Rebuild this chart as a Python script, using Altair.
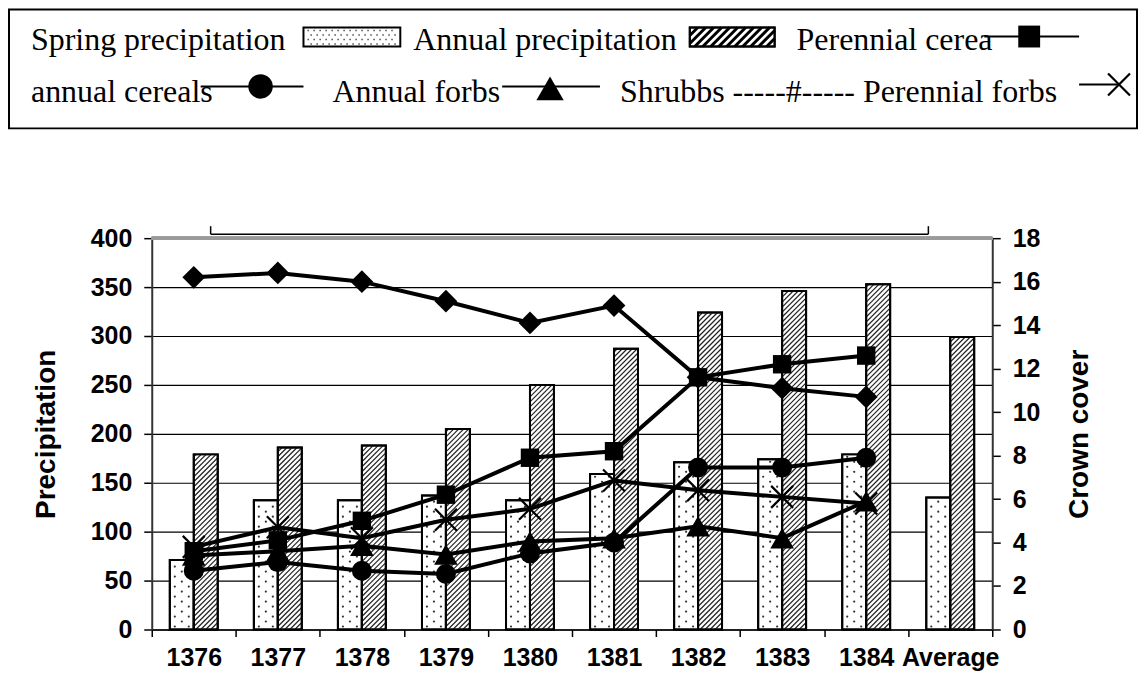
import json
import altair as alt
import pandas as pd

# ---------------- data ----------------
categories = ["1376", "1377", "1378", "1379", "1380", "1381", "1382", "1383", "1384", "Average"]
spring_precip = [71, 132, 132, 137, 132, 159, 171, 174, 179, 135]
annual_precip = [179, 186, 188, 205, 250, 287, 324, 346, 353, 299]

shrubbs = [16.2, 16.4, 16.0, 15.1, 14.1, 14.9, 11.6, 11.1, 10.7]
perennial_cereals = [3.6, 4.1, 5.0, 6.2, 7.9, 8.2, 11.6, 12.2, 12.6]
annual_cereals = [2.7, 3.1, 2.7, 2.55, 3.5, 4.0, 7.45, 7.45, 7.9]
annual_forbs = [3.4, 3.6, 3.85, 3.45, 4.05, 4.2, 4.75, 4.2, 5.9]
perennial_forbs = [3.8, 4.7, 4.2, 5.05, 5.55, 6.85, 6.4, 6.1, 5.8]

# ---------------- geometry / style ----------------
PLOT_W, PLOT_H = 842, 392
PX_X = PLOT_W / 10.0          # px per category
PX_Y = PLOT_H / 400.0         # px per precipitation unit
BAR_PX = 24
BW = BAR_PX / PX_X
SANS = "Liberation Sans"
SERIF = "Liberation Serif"
X_PATH = "M-1,-1L1,1M1,-1L-1,1"

precip_df = pd.DataFrame({
    "idx": list(range(len(categories))),
    "cat": categories,
    "spring": spring_precip,
    "annual": annual_precip,
})
bars_long = precip_df.melt(id_vars=["idx", "cat"], value_vars=["spring", "annual"],
                           var_name="series", value_name="value")

series_def = [
    ("Shrubbs", shrubbs, "diamond", 520),
    ("Perennial cereals", perennial_cereals, "square", 340),
    ("annual cereals", annual_cereals, "circle", 400),
    ("Annual forbs", annual_forbs, "triangle-up", 560),
    ("Perennial forbs", perennial_forbs, X_PATH, 484),
]
rows = []
for name, vals, _, _ in series_def:
    for i, v in enumerate(vals):
        rows.append({"idx": i, "series": name, "value": v})
crown_df = pd.DataFrame(rows)

xscale = alt.Scale(domain=[-0.5, 9.5], nice=False, zero=False)
yscale_p = alt.Scale(domain=[0, 400], nice=False)
yscale_c = alt.Scale(domain=[0, 18], nice=False)

tick_vals = sorted([i - 0.5 for i in range(11)] + list(range(10)))
xaxis = alt.Axis(
    values=tick_vals,
    labelExpr=f"datum.value % 1 === 0 ? {json.dumps(categories)}[datum.value] : ''",
    tickOpacity={"condition": {"test": "datum.value % 1 === 0", "value": 0}, "value": 1},
    grid=False, title=None, labelOverlap=False, labelFlush=False,
    tickSize=7, labelPadding=9, domainColor="black", domainWidth=1.5,
    tickColor="black", tickWidth=1.5,
)
yaxis_left = alt.Axis(
    values=list(range(0, 401, 50)), title="Precipitation", grid=True,
    gridColor="black", gridWidth=1.2,
    tickSize=8, labelPadding=12, titlePadding=30,
    domainColor="#333333", domainWidth=2, tickColor="black", tickWidth=1.5,
)
yaxis_right = alt.Axis(
    orient="right", values=list(range(0, 19, 2)), title="Crown cover", grid=False,
    titleAngle=270, titleBaseline="top", titlePadding=26,
    tickSize=8, labelPadding=12,
    domainColor="#333333", domainWidth=2, tickColor="black", tickWidth=1.5,
)

# ---------------- bars ----------------
bar_base = alt.Chart(bars_long).transform_calculate(
    x0=f"datum.idx + (datum.series === 'spring' ? {-BW} : 0)",
    x1=f"datum.idx + (datum.series === 'spring' ? 0 : {BW})",
)
bars_fill = bar_base.mark_rect(fill="white", stroke="black", strokeWidth=2).encode(
    x=alt.X("x0:Q", scale=xscale, axis=xaxis),
    x2="x1:Q",
    y=alt.Y("value:Q", scale=yscale_p, axis=yaxis_left),
    y2=alt.datum(0),
)
bars_outline = bar_base.mark_rect(fillOpacity=0, stroke="black", strokeWidth=2).encode(
    x=alt.X("x0:Q", scale=xscale),
    x2="x1:Q",
    y=alt.Y("value:Q", scale=yscale_p),
    y2=alt.datum(0),
)

top_line = alt.Chart(precip_df).mark_rule(color="#9a9a9a", strokeWidth=3).encode(
    y=alt.datum(400), x=alt.value(0), x2=alt.value(PLOT_W)
)


def dot_layer(col_px, start_px):
    return alt.Chart(precip_df).transform_calculate(
        ys=f"sequence({start_px}, datum.spring * {PX_Y} - 2, 10)"
    ).transform_flatten(["ys"]).transform_calculate(
        dx=f"datum.idx - {BW} + {col_px / PX_X}",
        dy=f"datum.ys / {PX_Y}",
    ).mark_circle(size=5, color="#333333", opacity=1).encode(
        x=alt.X("dx:Q", scale=xscale),
        y=alt.Y("dy:Q", scale=yscale_p),
    )


dots = [dot_layer(5, 3), dot_layer(19, 3), dot_layer(12, 8)]

hatch = alt.Chart(precip_df).transform_calculate(
    H=f"datum.annual * {PX_Y}"
).transform_calculate(
    ks=f"sequence({-BAR_PX + 2}, datum.H, 5)"
).transform_flatten(["ks"]).transform_calculate(
    u0="max(0, -datum.ks)",
    u1=f"min({BAR_PX}, datum.H - datum.ks)",
).transform_filter("datum.u1 > datum.u0").transform_calculate(
    hx=f"datum.idx + datum.u0 / {PX_X}",
    hx2=f"datum.idx + datum.u1 / {PX_X}",
    hy=f"(datum.u0 + datum.ks) / {PX_Y}",
    hy2=f"(datum.u1 + datum.ks) / {PX_Y}",
).mark_rule(color="#222222", strokeWidth=1.2).encode(
    x=alt.X("hx:Q", scale=xscale),
    x2="hx2:Q",
    y=alt.Y("hy:Q", scale=yscale_p),
    y2="hy2:Q",
)

precip_group = alt.layer(bars_fill, top_line, *dots, hatch, bars_outline)

# ---------------- crown-cover lines ----------------
lines = alt.Chart(crown_df).mark_line(color="black", strokeWidth=4).encode(
    x=alt.X("idx:Q", scale=xscale),
    y=alt.Y("value:Q", scale=yscale_c, axis=yaxis_right),
    detail="series:N",
)
pts = []
for name, _, shp, sz in series_def:
    is_x = shp == X_PATH
    pts.append(
        alt.Chart(crown_df).transform_filter(alt.datum.series == name).mark_point(
            shape=shp, size=sz, filled=not is_x, color="black", opacity=1,
            strokeWidth=2.2 if is_x else 1,
        ).encode(
            x=alt.X("idx:Q", scale=xscale),
            y=alt.Y("value:Q", scale=yscale_c),
        )
    )
crown_group = alt.layer(lines, *pts)

# ---------------- legend (drawn above the plot) ----------------
one = pd.DataFrame({"k": [0]})


def ltext(s, x, y, font=SERIF, size=32, color="black", **kw):
    return alt.Chart(one).mark_text(font=font, fontSize=size, align="left", baseline="alphabetic",
                                    color=color, **kw).encode(x=alt.value(x), y=alt.value(y), text=alt.value(s))


def lrule(x1, x2, y, w=2):
    return alt.Chart(one).mark_rule(color="black", strokeWidth=w).encode(
        x=alt.value(x1), x2=alt.value(x2), y=alt.value(y))


def lvrule(x, y1, y2, w=1.5):
    return alt.Chart(one).mark_rule(color="black", strokeWidth=w).encode(
        x=alt.value(x), y=alt.value(y1), y2=alt.value(y2))


def lpoint(shape, x, y, size, filled=True, sw=1, color="black"):
    return alt.Chart(one).mark_point(shape=shape, size=size, filled=filled, color=color,
                                     opacity=1, strokeWidth=sw).encode(x=alt.value(x), y=alt.value(y))


def lrect(x1, x2, y1, y2, sw=2, fill="white"):
    return alt.Chart(one).mark_rect(fill=fill, stroke="black", strokeWidth=sw).encode(
        x=alt.value(x1), x2=alt.value(x2), y=alt.value(y1), y2=alt.value(y2))


# swatch patterns as custom symbol paths (size=4 -> one path unit = one pixel)
def dots_path(w, h):
    parts = []
    ys = [-6.5, -2.0, 2.5, 7.0]
    for r, yy in enumerate(ys):
        start = -w / 2 + 4 + (3 if r % 2 else 0)
        xx = start
        while xx < w / 2 - 3:
            parts.append(f"M{xx:.1f},{yy - 0.7:.1f}h1.4v1.4h-1.4z")
            xx += 6
    return "".join(parts)


def hatch_path(w, h, step):
    parts = []
    k = -w
    while k < h:
        u0 = max(0.0, -k)
        u1 = min(float(w), h - k)
        if u1 > u0:
            x0, y0 = u0 - w / 2, h / 2 - (u0 + k)
            x1, y1 = u1 - w / 2, h / 2 - (u1 + k)
            parts.append(f"M{x0:.1f},{y0:.1f}L{x1:.1f},{y1:.1f}")
        k += step
    return "".join(parts)


ROW1, ROW2 = -189, -136
legend_layers = [
    lrect(-143, 987, -229, -110, sw=2),
    ltext("Spring precipitation", -121, ROW1),
    lrect(152, 249, -211, -192, sw=2),
    lpoint(dots_path(97, 19), 200.5, -201.5, 4, filled=True, sw=0, color="#444444"),
    ltext("Annual precipitation", 262, ROW1),
    lrect(539, 624, -211, -192, sw=2),
    lpoint(hatch_path(85, 19, 8), 581.5, -201.5, 4, filled=False, sw=3),
    lrect(539, 624, -211, -192, sw=2, fill="transparent"),
    ltext("Perennial cerea", 646, ROW1),
    lrule(834, 929, -202),
    lpoint("square", 879, -202, 480),
    ltext("annual cereals", -121, ROW2),
    lrule(49, 152, -152),
    lpoint("circle", 109, -152, 600),
    ltext("Annual forbs", 181, ROW2),
    lrule(351, 449, -152),
    lpoint("triangle-up", 399, -150, 750),
    ltext("Shrubbs -----#----- Perennial forbs", 469, ROW2),
    lrule(929, 969, -154),
    lpoint(X_PATH, 969, -154, 484, filled=False, sw=2.2),
    # bracket above plot
    lrule(59, 778, -4, 1.5),
    lvrule(59, -12, -4),
    lvrule(778, -12, -4),
]

chart = alt.layer(precip_group, crown_group, *legend_layers).resolve_scale(
    y="independent"
).properties(
    width=PLOT_W, height=PLOT_H, padding=0
).configure_view(
    stroke=None
).configure_axis(
    labelFont=SANS, labelFontSize=25, labelFontWeight="bold", labelColor="black",
    titleFont=SANS, titleFontSize=28, titleFontWeight="bold", titleColor="black",
)

chart.save("out.html", embed_options={"renderer": "svg", "actions": False})
